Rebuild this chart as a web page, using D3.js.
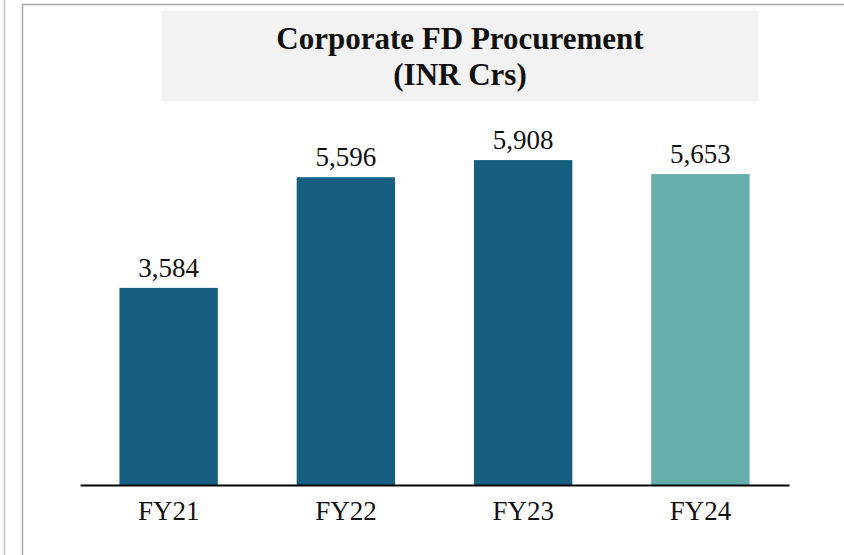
<!DOCTYPE html>
<html>
<head>
<meta charset="utf-8">
<script src="https://cdn.jsdelivr.net/npm/d3@7"></script>
<style>
  body { margin: 0; background: #fff; }
  text { font-family: "Liberation Serif", "DejaVu Serif", serif; fill: #111; }
</style>
</head>
<body>
<div id="chart"></div>
<script>
// data
var years = ["FY21", "FY22", "FY23", "FY24"];
var values = [3584, 5596, 5908, 5653];
var barColors = ["#175f80", "#175f80", "#175f80", "#66aeac"];

var svgWidth = 844;
var svgHeight = 555;

var svg = d3.select("#chart")
  .append("svg")
  .attr("width", svgWidth)
  .attr("height", svgHeight);

// frame lines
svg.append("line").attr("x1", 4.5).attr("x2", 4.5).attr("y1", 0).attr("y2", svgHeight)
  .attr("stroke", "#bdbdbd").attr("stroke-width", 1.5);
svg.append("path").attr("d", `M22.5,${svgHeight} V4.5 H${svgWidth}`)
  .attr("fill", "none").attr("stroke", "#a6a6a6").attr("stroke-width", 1.5);

// title box
svg.append("rect")
  .attr("x", 162).attr("y", 11)
  .attr("width", 596).attr("height", 90)
  .attr("fill", "#f2f2f2");

svg.append("text")
  .attr("x", 460).attr("y", 49)
  .attr("text-anchor", "middle")
  .style("font-size", "31px").style("font-weight", "bold")
  .text("Corporate FD Procurement");
svg.append("text")
  .attr("x", 460).attr("y", 85)
  .attr("text-anchor", "middle")
  .style("font-size", "31px").style("font-weight", "bold")
  .text("(INR Crs)");

// scales
var x = d3.scaleBand()
  .domain(years)
  .range([80, 789])
  .paddingInner(0.445)
  .paddingOuter(0.2225);

var y = d3.scaleLinear()
  .domain([0, 7000])
  .range([485, 100]);

// bars
svg.selectAll(".bar")
  .data(years)
  .enter()
  .append("rect")
  .attr("class", "bar")
  .attr("x", d => x(d))
  .attr("width", x.bandwidth())
  .attr("y", (d, i) => y(values[i]))
  .attr("height", (d, i) => y(0) - y(values[i]))
  .attr("fill", (d, i) => barColors[i]);

// value labels
svg.selectAll(".val")
  .data(years)
  .enter()
  .append("text")
  .attr("class", "val")
  .attr("x", d => x(d) + x.bandwidth() / 2)
  .attr("y", (d, i) => y(values[i]) - 11)
  .attr("text-anchor", "middle")
  .style("font-size", "27px")
  .text((d, i) => d3.format(",")(values[i]));

// x axis
var xAxis = svg.append("g")
  .attr("transform", `translate(0, ${y(0)})`)
  .call(d3.axisBottom(x).tickSize(0).tickPadding(16));
xAxis.select(".domain").attr("stroke", "#000").attr("stroke-width", 2);
xAxis.selectAll("text")
  .style("font-size", "27px")
  .style("font-family", "\"Liberation Serif\", serif")
  .attr("fill", "#111");
</script>
</body>
</html>
